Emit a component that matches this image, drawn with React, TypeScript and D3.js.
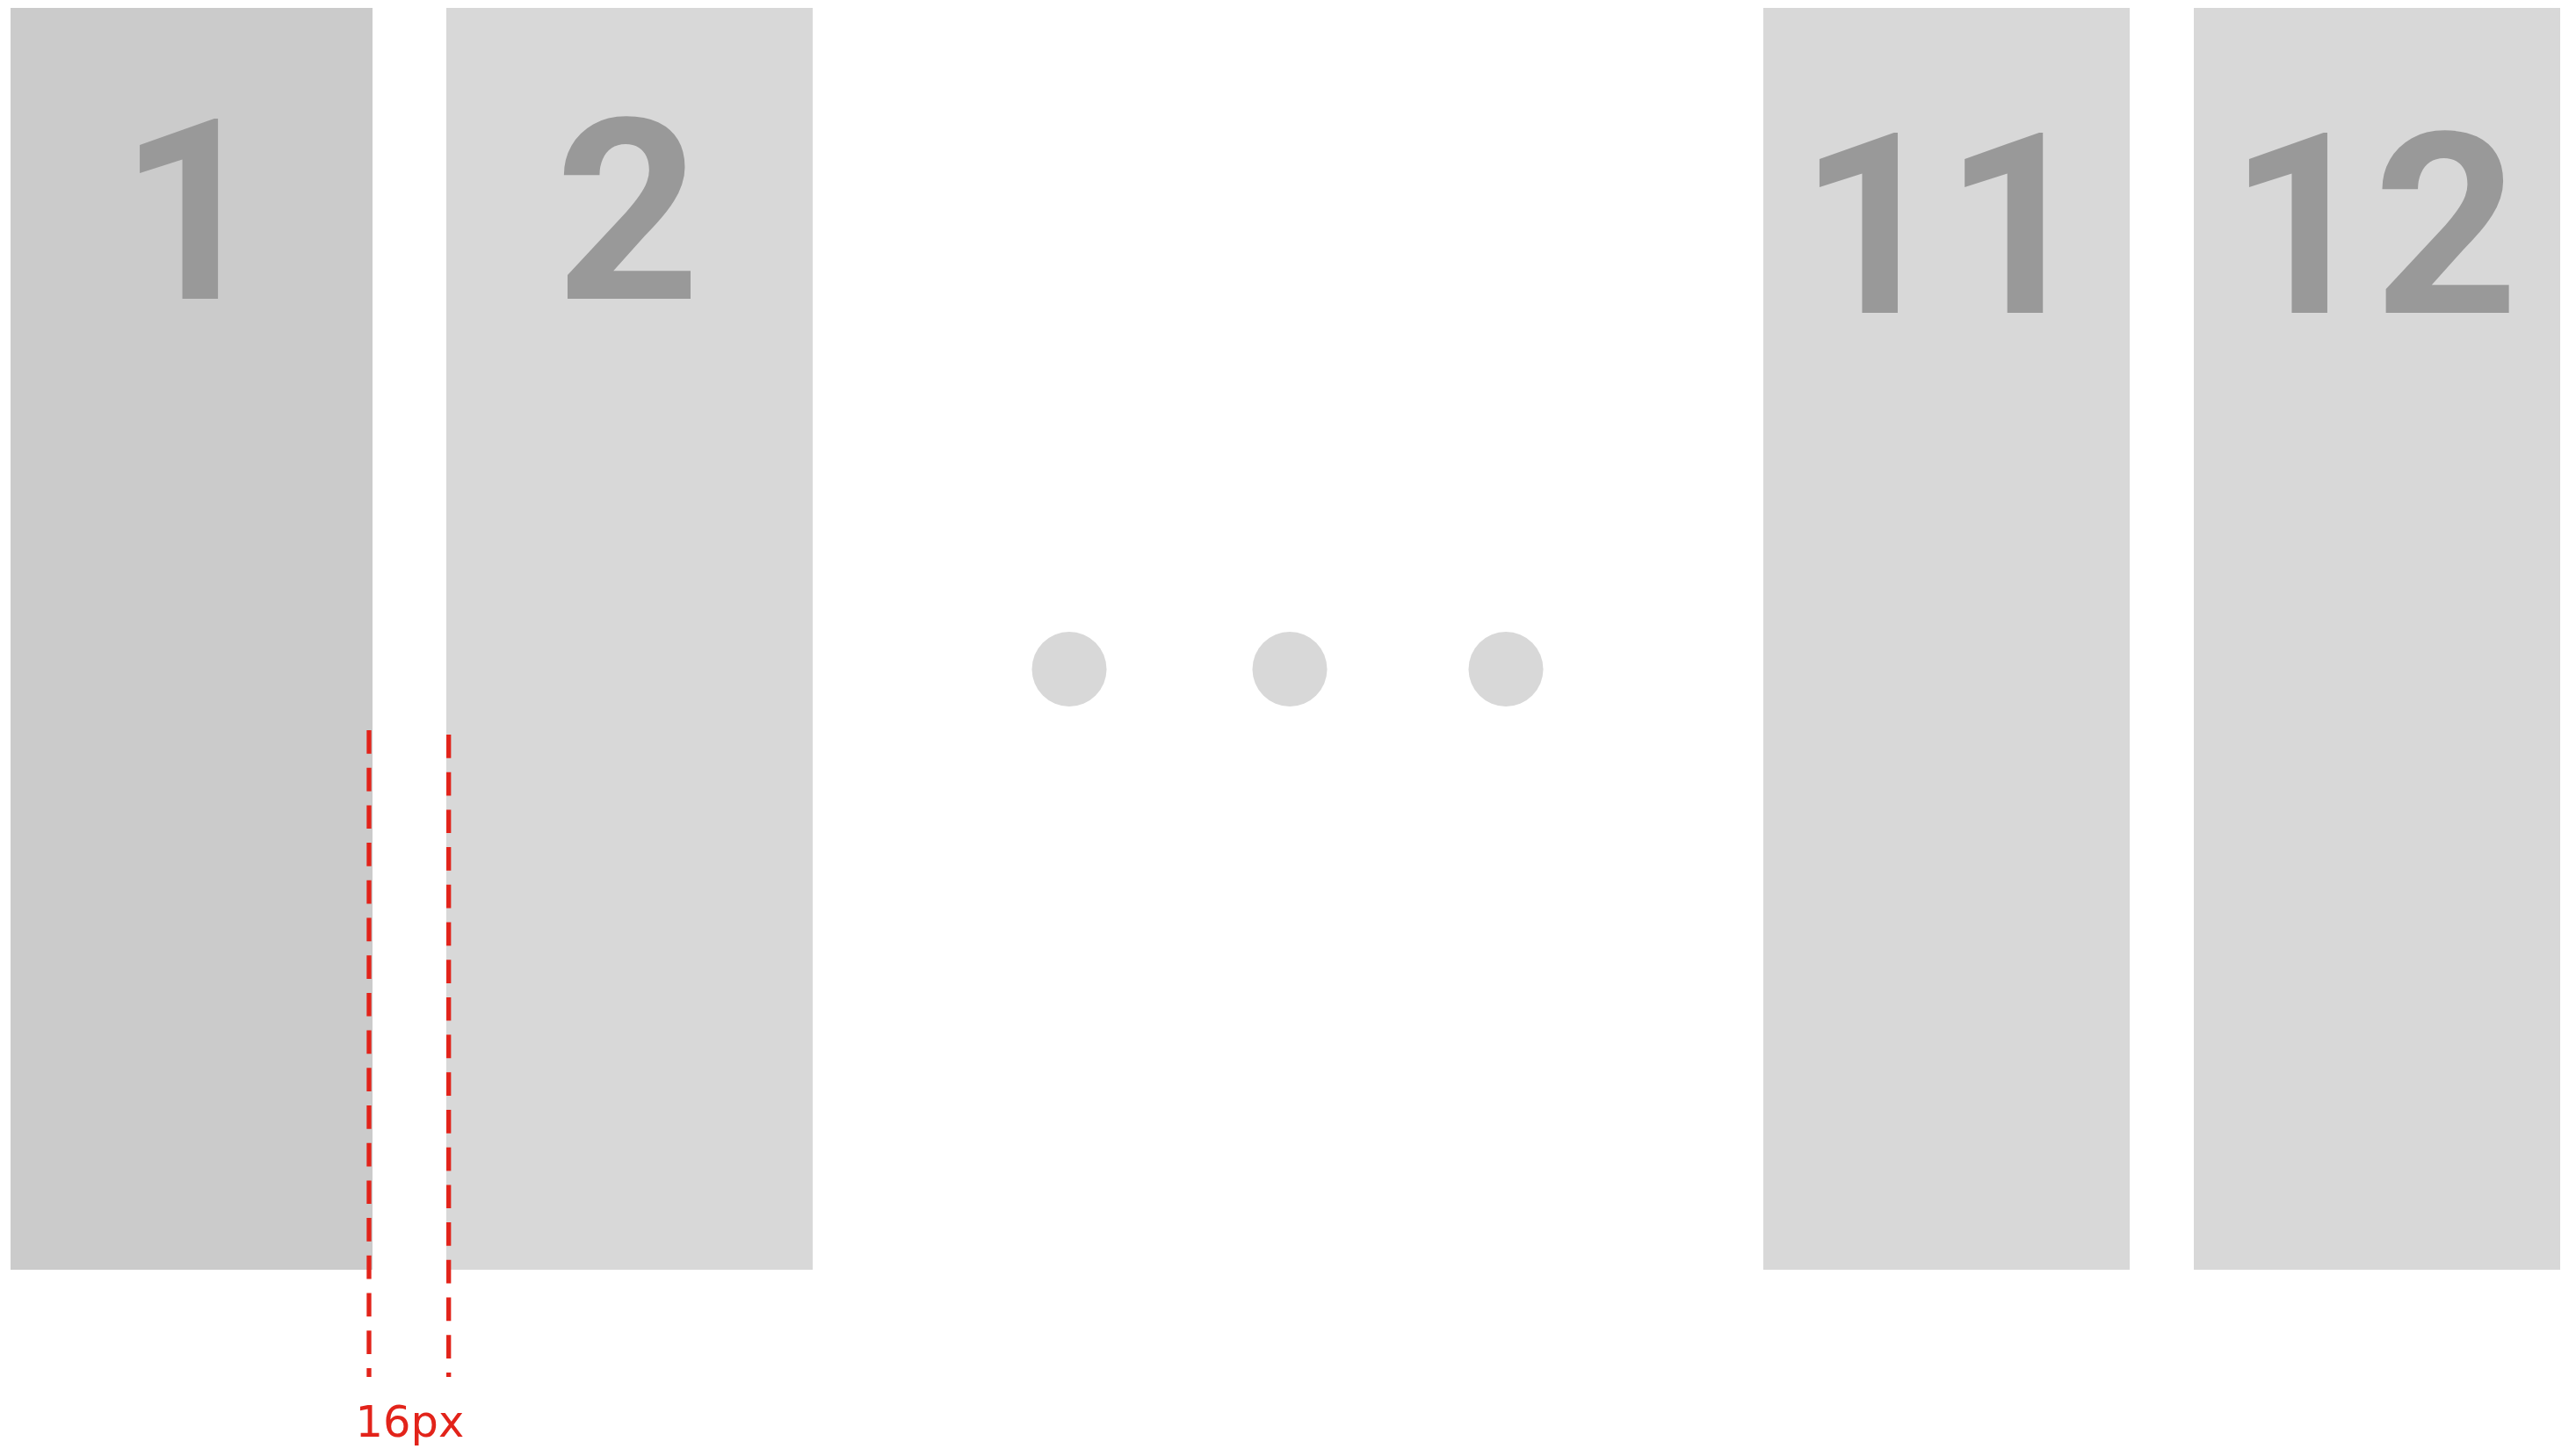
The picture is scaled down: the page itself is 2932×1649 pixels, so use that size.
import React from "react";
import * as d3 from "d3";

// ---- data ----
const panelLabels: string[] = ["1", "2", "11", "12"];
const panelHighlight: boolean[] = [true, false, false, false];
const panelLabelShift: number[] = [0, 0, 1, 1]; // 0 = upper baseline, 1 = lower baseline
const ellipsisDots: number[] = [0, 1, 2];
const gapLabel = "16px";

const W = 2932;
const H = 1649;

export default function App() {
  // horizontal layout: panel left / right edges (px)
  const panelX = d3.scaleOrdinal<string, [number, number]>()
    .domain(panelLabels)
    .range([
      [12, 424],
      [508, 925],
      [2007, 2424],
      [2497, 2914],
    ]);
  const top = 9;
  const bottom = 1445;
  const baselineY = d3.scaleLinear().domain([0, 1]).range([340, 356]);
  const labelDx = [0, -2, -3, -4];
  const dotX = d3.scaleLinear().domain([0, 1, 2]).range([1217, 1468, 1714]);
  const dotY = 761.5;
  const dotR = 42.5;

  // gap markers between panel 1 and 2
  const leftLineX = 420;
  const rightLineX = 510.7;

  return (
    <svg
      width={W}
      height={H}
      viewBox={`0 0 ${W} ${H}`}
      style={{ position: "fixed", left: 0, top: 0, background: "#ffffff" }}
    >
      <rect x={0} y={0} width={W} height={H} fill="#ffffff" />
      {panelLabels.map((lab, i) => {
        const [x0, x1] = panelX(lab);
        return (
          <g key={lab}>
            <rect
              x={x0}
              y={top}
              width={x1 - x0}
              height={bottom - top}
              fill={panelHighlight[i] ? "#cbcbcb" : "#d8d8d8"}
            />
            <text
              x={(x0 + x1) / 2 + labelDx[i]}
              y={baselineY(panelLabelShift[i])}
              textAnchor="middle"
              fontFamily="Roboto"
              fontWeight={700}
              fontSize={288}
              fill="#999999"
            >
              {lab}
            </text>
          </g>
        );
      })}
      {ellipsisDots.map((d) => (
        <circle key={d} cx={dotX(d)} cy={dotY} r={dotR} fill="#d8d8d8" />
      ))}
      <line
        x1={leftLineX}
        x2={leftLineX}
        y1={831}
        y2={1567}
        stroke="#e2231a"
        strokeWidth={5.3}
        strokeDasharray="26.7,16"
      />
      <line
        x1={rightLineX}
        x2={rightLineX}
        y1={836}
        y2={1567}
        stroke="#e2231a"
        strokeWidth={5.3}
        strokeDasharray="26.7,16"
      />
      <text
        x={(leftLineX + rightLineX) / 2 + 1}
        y={1635}
        textAnchor="middle"
        fontFamily="'DejaVu Sans'"
        fontSize={49.5}
        fill="#e2231a"
      >
        {gapLabel}
      </text>
    </svg>
  );
}
